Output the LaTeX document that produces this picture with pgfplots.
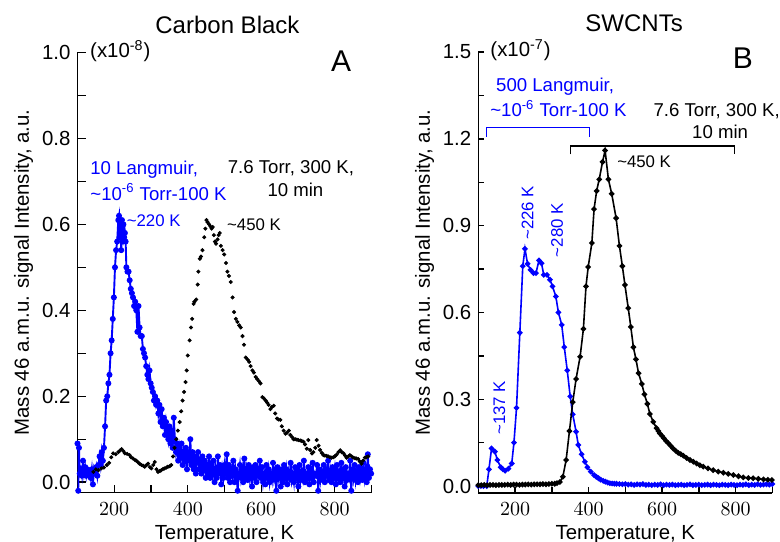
\documentclass[border=0pt]{standalone}
\usepackage{fontspec}
\setmainfont{Liberation Sans}
\setsansfont{Liberation Sans}
\usepackage{pgfplots}
\pgfplotsset{compat=1.18}

% sizes in pt, 1 px of the reference = 0.5pt
\newcommand{\ticksize}{\fontsize{10.2}{12}\selectfont}
\newcommand{\labsize}{\fontsize{10.2}{12}\selectfont}
\newcommand{\notesize}{\fontsize{9.3}{11}\selectfont}
\newcommand{\peaksize}{\fontsize{8.4}{10}\selectfont}

\pgfplotsset{
  tpdpanel/.style={
    scale only axis,
    width=147pt,
    axis x line*=bottom, axis y line*=left,
    axis line style={line width=0.8pt},
    tick align=inside,
    tick style={black, line width=0.7pt},
    xmin=100, xmax=900,
    xtick={200,400,600,800},
    minor xtick={100,300,500,700,900},
    tick label style={font=\ticksize},
    xticklabel style={yshift=-1.5pt},
    label style={font=\labsize},
    xlabel={Temperature, K},
    ylabel={Mass 46 a.m.u. signal Intensity, a.u.},
    xlabel style={at={(axis description cs:0.5,0)}, anchor=base, yshift=-23.25pt},
    ylabel style={at={(axis description cs:-0.165,0.5)}, anchor=base},
    clip mode=individual,
  },
}

\begin{document}
\begin{tikzpicture}

% ---------------- A: Carbon Black ----------------
\begin{axis}[tpdpanel,
  at={(38.75pt,24.25pt)}, anchor=south west,
  height=220pt,
  ymin=-0.024, ymax=1.0,
  ytick={0,0.2,0.4,0.6,0.8,1.0},
  yticklabels={0.0,0.2,0.4,0.6,0.8,1.0},
  minor ytick={0.1,0.3,0.5,0.7,0.9},
  major tick length=4pt, minor tick length=4pt,
]
\addplot[blue, line width=0.95pt, mark=*, mark size=1.0pt] coordinates {
(100,0.09)(102,-0.02)(104,0.08)(106,0.02)(109,0.03)(112,0.015)(115,0.05)(118,0.02)
(121,0.035)(124,0.015)(127,0.03)(130,0.02)(133,0.025)(136,0.01)(139,0.03)(142,-0.005)
(145,0.03)(148,0.02)(151,0.035)(154,0.015)(157,0.04)(160,0.06)(163,0.04)(166,0.07)
(169,0.05)(172,0.08)(175,0.13)(178,0.19)(181,0.20)(184,0.23)(187,0.25)(190,0.30)
(193,0.33)(196,0.38)(199,0.43)(202,0.50)(205,0.54)(208,0.56)(211,0.61)(213,0.62)
(215,0.57)(217,0.60)(219,0.54)(221,0.61)(223,0.56)(225,0.60)(227,0.57)(229,0.58)
(231,0.56)(233,0.50)(236,0.49)(239,0.49)(242,0.47)(245,0.45)(248,0.44)(251,0.43)
(254,0.41)(257,0.42)(260,0.40)(263,0.35)(266,0.41)(269,0.36)(272,0.34)(275,0.34)
(278,0.31)(281,0.30)(284,0.29)(287,0.27)(290,0.25)(293,0.24)(296,0.26)(299,0.23)
(302,0.22)(305,0.21)(308,0.19)(311,0.20)(314,0.18)(317,0.19)(320,0.16)(323,0.18)
(326,0.14)(329,0.17)(332,0.13)(335,0.15)(338,0.11)(341,0.14)(344,0.12)(347,0.10)
(350,0.13)(353,0.09)(356,0.12)(359,0.08)(362,0.15)(365,0.10)(368,0.07)(371,0.09)
(374,0.05)(377,0.08)(380,0.06)(383,0.09)(386,0.04)(389,0.07)(392,0.05)(395,0.08)
(398,0.03)(401,0.07)(404,0.05)(407,0.10)(410,0.04)(413,0.07)(416,0.03)(419,0.06)
(422,0.02)(425,0.05)(428,0.07)(431,0.03)(434,0.05)(437,0.02)(440,0.06)(443,0.03)
(446,0.05)(449,0.01)(452,0.04)(455,0.02)(458,0.06)(461,0.01)(464,0.04)(467,0.02)
(470,0.05)(473,0.00)(476,0.03)(479,0.01)(482,0.06)(485,0.02)(488,0.04)(491,-0.005)
(494,0.03)(497,0.01)(500,0.04)(503,0.02)(506,0.065)(509,0.01)(512,0.04)(515,0.00)
(518,0.03)(521,0.015)(524,0.05)(527,0.00)(530,0.03)(533,0.01)(536,-0.02)(539,0.02)
(542,0.04)(545,0.01)(548,0.03)(551,0.00)(554,0.055)(557,0.01)(560,0.03)(563,0.005)
(566,0.04)(569,0.01)(572,0.03)(575,-0.01)(578,0.035)(581,0.01)(584,0.04)(587,0.00)
(590,0.03)(593,0.015)(596,0.05)(599,0.01)(602,0.035)(605,0.00)(608,0.02)(611,-0.005)
(614,0.04)(617,0.01)(620,0.03)(623,0.00)(626,0.02)(629,0.005)(632,0.045)(635,0.01)
(638,0.03)(641,-0.02)(644,0.035)(647,0.01)(650,0.025)(653,-0.01)(656,0.03)(659,0.00)
(662,0.04)(665,0.01)(668,0.03)(671,-0.005)(674,0.025)(677,0.01)(680,0.045)(683,0.005)
(686,0.02)(689,0.00)(692,0.035)(695,0.01)(698,0.03)(701,-0.01)(704,0.04)(707,0.005)
(710,0.025)(713,0.01)(716,0.05)(719,0.00)(722,0.02)(725,0.01)(728,0.035)(731,-0.005)
(734,0.03)(737,0.01)(740,0.045)(743,0.00)(746,0.02)(749,0.015)(752,0.04)(755,-0.02)
(758,0.03)(761,0.005)(764,0.025)(767,0.01)(770,0.04)(773,0.00)(776,0.03)(779,0.015)
(782,0.05)(785,0.005)(788,0.025)(791,0.00)(794,0.035)(797,0.01)(800,0.03)(803,-0.005)
(806,0.04)(809,0.01)(812,0.025)(815,0.00)(818,0.045)(821,0.01)(824,0.03)(827,-0.01)
(830,0.035)(833,0.005)(836,0.02)(839,0.01)(842,0.05)(845,-0.02)(848,0.03)(851,0.01)
(854,0.04)(857,0.005)(860,0.025)(863,0.00)(866,0.035)(869,0.01)(872,0.03)(875,0.005)
(878,0.045)(881,0.01)(884,0.03)(887,0.00)(890,0.065)(893,0.01)(896,0.03)(899,0.02)
};
\addplot[black, only marks, mark=*, mark size=0.8pt] coordinates {
(143,0.024)(150,0.03)(157,0.028)(165,0.032)(172,0.034)(180,0.04)(186,0.045)(192,0.058)
(197,0.067)(204,0.065)(211,0.07)(216,0.074)(220,0.077)(225,0.072)(229,0.067)(235,0.066)
(242,0.063)(246,0.058)(251,0.055)(256,0.052)(260,0.05)(265,0.046)(269,0.043)(274,0.04)
(279,0.038)(283,0.036)(288,0.040)(292,0.043)(297,0.035)(301,0.032)(306,0.040)(310,0.047)
(315,0.030)(319,0.024)(324,0.026)(328,0.028)(333,0.031)(337,0.032)(342,0.034)(346,0.036)
(351,0.037)(355,0.040)(360,0.060)(364,0.080)(369,0.10)(373,0.12)(378,0.14)(382,0.165)
(386,0.19)(390,0.21)(394,0.233)(397,0.26)(400,0.295)(405,0.33)(409,0.36)(412,0.38)
(416,0.415)(418,0.42)(423,0.425)(427,0.46)(429,0.49)(433,0.52)(436,0.525)(440,0.54)
(445,0.57)(448,0.59)(451,0.61)(454,0.605)(458,0.60)(462,0.595)(465,0.59)(468,0.594)
(471,0.575)(474,0.56)(477,0.555)(481,0.565)(484,0.575)(487,0.58)(490,0.55)(495,0.54)
(499,0.53)(504,0.51)(508,0.49)(512,0.48)(517,0.466)(522,0.43)(526,0.396)(531,0.38)
(535,0.373)(540,0.365)(544,0.36)(549,0.34)(553,0.32)(558,0.29)(563,0.285)(567,0.28)
(571,0.27)(576,0.26)(580,0.255)(585,0.245)(589,0.24)(594,0.235)(598,0.23)(603,0.198)
(607,0.195)(612,0.19)(616,0.185)(620,0.18)(625,0.17)(629,0.175)(634,0.178)(638,0.16)
(643,0.148)(647,0.146)(652,0.145)(656,0.13)(661,0.12)(666,0.113)(670,0.115)(675,0.12)
(679,0.11)(684,0.105)(688,0.10)(692,0.10)(697,0.099)(701,0.098)(706,0.097)(710,0.096)
(715,0.094)(719,0.088)(724,0.078)(728,0.098)(733,0.075)(738,0.067)(742,0.07)(747,0.08)
(751,0.098)(756,0.085)(760,0.075)(765,0.068)(769,0.063)(773,0.062)(778,0.061)(782,0.06)
(787,0.058)(791,0.057)(796,0.058)(800,0.06)(805,0.064)(810,0.07)(815,0.074)(819,0.07)
(824,0.067)(828,0.062)(832,0.057)(837,0.06)(841,0.063)(846,0.06)(850,0.057)(855,0.056)
(859,0.055)(864,0.054)(868,0.048)(873,0.043)(877,0.05)(882,0.057)(886,0.058)(891,0.06)
};
\node[anchor=base, font=\fontsize{12}{14}\selectfont] at (axis description cs:0.51,1.044) {Carbon Black};
\node[anchor=base west, font=\labsize, inner sep=0pt] at (axis description cs:0.042,0.988) {(x10\textsuperscript{-8})};
\node[anchor=base, font=\fontsize{15}{18}\selectfont] at (axis description cs:0.897,0.956) {A};
\node[anchor=base west, blue, font=\notesize, inner sep=0pt] at (axis cs:134,0.716) {10 Langmuir,};
\node[anchor=base west, blue, font=\notesize, inner sep=0pt] at (axis cs:134,0.656) {\textasciitilde10\textsuperscript{-6} Torr-100 K};
\node[anchor=base west, font=\notesize, inner sep=0pt] at (axis cs:508,0.718) {7.6 Torr, 300 K,};
\node[anchor=base, font=\notesize, inner sep=0pt] at (axis cs:693,0.665) {10 min};
\node[anchor=base west, blue, font=\peaksize, inner sep=0pt] at (axis cs:233,0.595) {\textasciitilde220 K};
\node[anchor=base west, font=\peaksize, inner sep=0pt] at (axis cs:506,0.586) {\textasciitilde450 K};
\end{axis}

% ---------------- B: SWCNTs ----------------
\begin{axis}[tpdpanel,
  at={(239.15pt,24pt)}, anchor=south west,
  height=220.5pt,
  ymin=-0.024, ymax=1.5,
  ytick={0,0.3,0.6,0.9,1.2,1.5},
  yticklabels={0.0,0.3,0.6,0.9,1.2,1.5},
  minor ytick={0.15,0.45,0.75,1.05,1.35},
  major tick length=2.8pt, minor tick length=2.8pt,
]
\addplot[blue, line width=0.8pt, mark=*, mark size=0.95pt] coordinates {
(100,0.0)(107,0.0)(114,0.0)(123,0.0)(129,0.058)(136,0.13)(145,0.119)(152,0.09)
(161,0.065)(167,0.058)(173,0.053)(182,0.06)(191,0.078)(197,0.15)(204,0.27)(213,0.53)
(221,0.76)(227,0.82)(234,0.768)(242,0.747)(250,0.736)(257,0.736)(265,0.78)(272,0.77)
(278,0.73)(287,0.73)(295,0.713)(302,0.69)(311,0.655)(318,0.60)(327,0.557)(334,0.48)
(342,0.40)(350,0.31)(357,0.248)(366,0.188)(372,0.142)(381,0.11)(390,0.084)(397,0.065)
(406,0.05)(415,0.038)(421,0.032)(427,0.027)(433,0.022)(440,0.018)(446,0.015)(452,0.012)
(458,0.01)(464,0.009)(470,0.008)(476,0.008)(484,0.007)(492,0.006)(500,0.007)(508,0.005)
(516,0.006)(524,0.004)(532,0.006)(540,0.005)(548,0.007)(556,0.004)(564,0.005)(572,0.003)
(580,0.005)(588,0.004)(596,0.006)(604,0.003)(612,0.005)(620,0.004)(628,0.005)(636,0.003)
(644,0.004)(652,0.005)(660,0.003)(668,0.004)(676,0.006)(684,0.003)(692,0.004)(700,0.005)
(708,0.003)(716,0.004)(724,0.005)(732,0.003)(740,0.005)(748,0.004)(756,0.003)(764,0.005)
(772,0.004)(780,0.003)(788,0.005)(796,0.004)(804,0.003)(812,0.005)(820,0.004)(828,0.006)
(836,0.003)(844,0.005)(852,0.004)(860,0.006)(868,0.004)(876,0.005)(884,0.006)(892,0.005)
(900,0.007)
};
\addplot[black, line width=0.8pt, mark=*, mark size=0.95pt] coordinates {
(100,0.003)(108,0.003)(116,0.004)(124,0.003)(132,0.004)(140,0.004)(148,0.003)(156,0.004)
(164,0.004)(172,0.004)(180,0.005)(188,0.004)(196,0.005)(204,0.005)(212,0.004)(220,0.005)
(228,0.005)(236,0.006)(244,0.005)(252,0.006)(260,0.006)(268,0.006)(276,0.007)(284,0.006)
(292,0.007)(300,0.008)(308,0.008)(314,0.01)(322,0.014)(330,0.032)(339,0.09)(348,0.19)
(357,0.29)(366,0.37)(377,0.447)(386,0.543)(393,0.69)(399,0.757)(409,0.84)(415,0.957)
(422,1.02)(429,1.06)(438,1.12)(445,1.16)(454,1.06)(463,1.01)(475,0.926)(484,0.83)
(492,0.76)(499,0.695)(508,0.615)(515,0.55)(522,0.48)(529,0.438)(536,0.39)(545,0.353)
(552,0.317)(560,0.284)(567,0.249)(576,0.222)(585,0.20)(590,0.19)(594,0.182)(600,0.173)
(605,0.165)(611,0.156)(617,0.148)(623,0.14)(630,0.13)(637,0.122)(644,0.115)(651,0.11)
(658,0.105)(667,0.097)(676,0.09)(685,0.084)(694,0.078)(703,0.072)(712,0.067)(725,0.061)
(739,0.055)(753,0.05)(767,0.046)(780,0.042)(794,0.038)(808,0.034)(821,0.03)(835,0.028)
(848,0.027)(862,0.025)(876,0.023)(888,0.022)(899,0.021)
};
\node[anchor=base, font=\fontsize{12}{14}\selectfont] at (axis description cs:0.53,1.046) {SWCNTs};
\node[anchor=base west, font=\labsize, inner sep=0pt] at (axis description cs:0.04,0.989) {(x10\textsuperscript{-7})};
\node[anchor=base, font=\fontsize{15}{18}\selectfont] at (axis description cs:0.90,0.963) {B};
\node[anchor=base, blue, font=\notesize, inner sep=0pt] at (axis cs:309,1.362) {500 Langmuir,};
\node[anchor=base, blue, font=\notesize, inner sep=0pt] at (axis cs:318,1.276) {\textasciitilde10\textsuperscript{-6} Torr-100 K};
\draw[blue, line width=0.6pt] (axis cs:123,1.207) -- (axis cs:123,1.238) -- (axis cs:402,1.238) -- (axis cs:402,1.207);
\node[anchor=base west, font=\notesize, inner sep=0pt] at (axis cs:576,1.276) {7.6 Torr, 300 K,};
\node[anchor=base, font=\notesize, inner sep=0pt] at (axis cs:758,1.201) {10 min};
\draw[black, line width=0.6pt] (axis cs:351,1.146) -- (axis cs:351,1.175) -- (axis cs:798,1.175) -- (axis cs:798,1.146);
\node[anchor=base west, font=\peaksize, inner sep=0pt] at (axis cs:477,1.10) {\textasciitilde450 K};
\node[anchor=base west, rotate=90, blue, font=\peaksize, inner sep=0pt] at (axis cs:250,0.85) {\textasciitilde226 K};
\node[anchor=base west, rotate=90, blue, font=\peaksize, inner sep=0pt] at (axis cs:330,0.79) {\textasciitilde280 K};
\node[anchor=base west, rotate=90, blue, font=\peaksize, inner sep=0pt] at (axis cs:173,0.176) {\textasciitilde137 K};
\end{axis}

\pgfresetboundingbox
\path[use as bounding box] (0,0) rectangle (390pt,270.5pt);
\end{tikzpicture}
\end{document}
